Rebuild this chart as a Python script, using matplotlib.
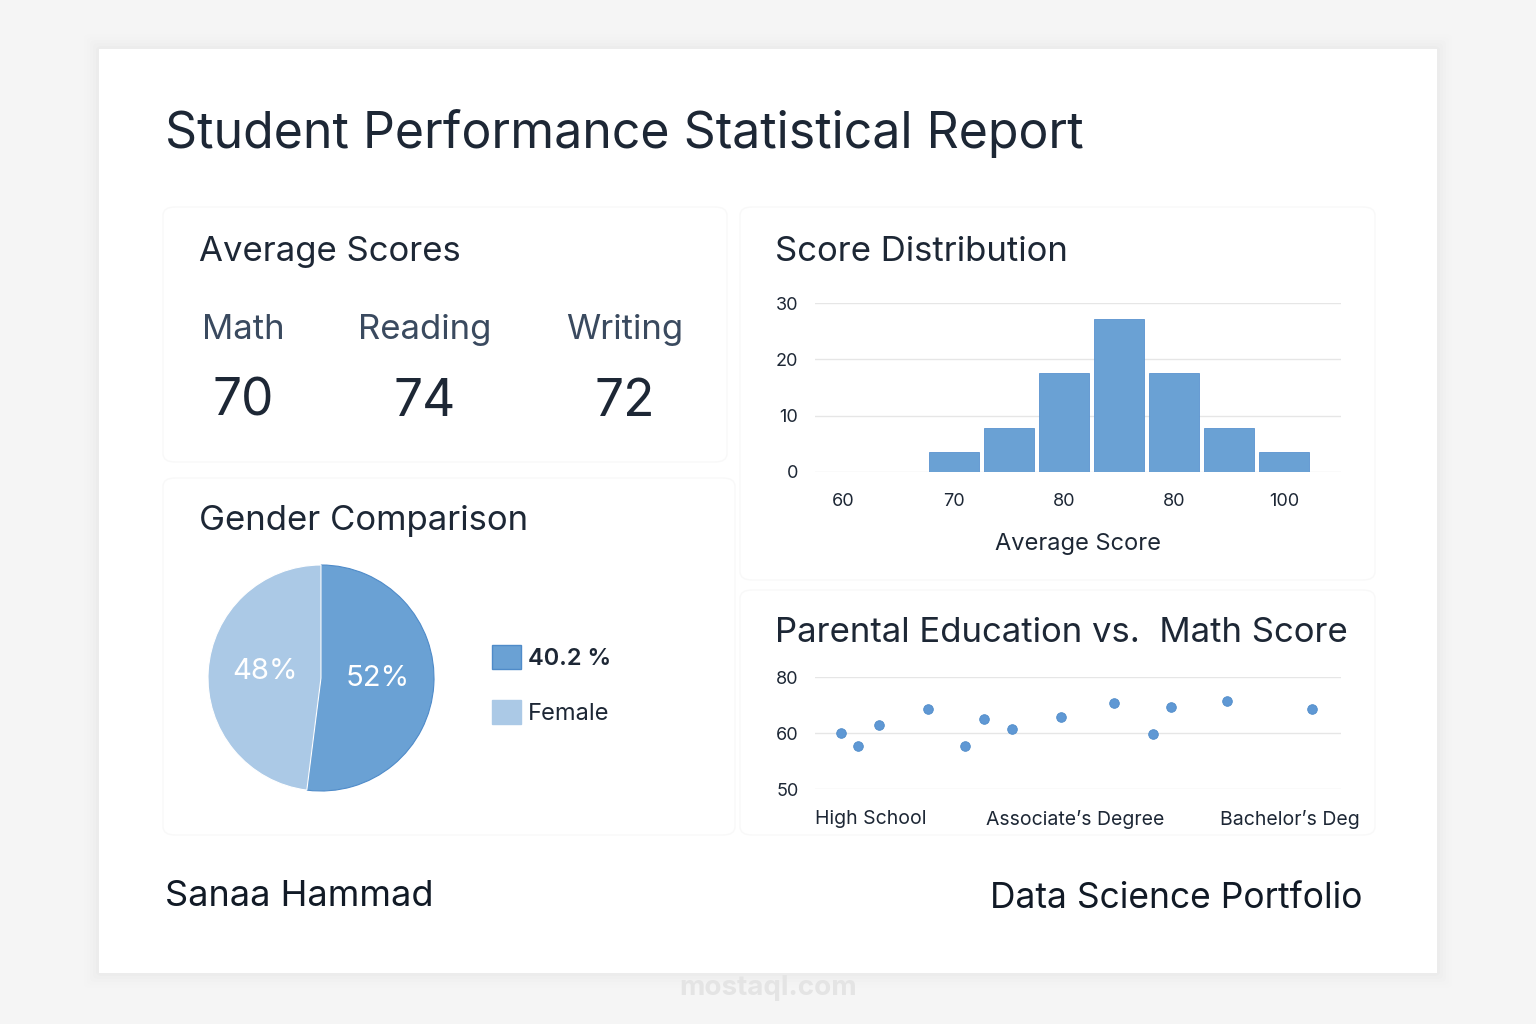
import numpy as np
import matplotlib
matplotlib.use("Agg")
import matplotlib.pyplot as plt
from matplotlib.patches import FancyBboxPatch, Patch

plt.rcParams['font.family'] = ['Inter', 'DejaVu Sans']

# ---- data ----
subjects = ["Math", "Reading", "Writing"]
avg_scores = [70, 74, 72]

gender_labels = ["40.2 %", "Female"]
gender_share = [52, 48]
gender_text = ["52%", "48%"]

hist_centers = [70, 75, 80, 85, 90, 95, 100]
hist_counts = [3.5, 7.8, 17.6, 27.2, 17.6, 7.8, 3.5]
hist_ticks = [60, 70, 80, 90, 100]
hist_ticklabels = ["60", "70", "80", "80", "100"]

edu_levels = ["High School", "Associate\u2019s Degree", "Bachelor\u2019s Deg"]
edu_x = [-0.15, -0.065, 0.04, 0.28, 0.46, 0.55, 0.69, 0.93, 1.19, 1.38, 1.47, 1.74, 2.16]
math_y = [60.0, 57.7, 62.8, 68.6, 57.6, 65.0, 61.3, 65.8, 70.7, 59.9, 69.2, 71.4, 68.4]
math_ticks = [50, 60, 80]

DARK = "#6aa1d4"
LIGHT = "#abc9e6"
TXT = "#1d2735"

W, H = 1536, 1024
fig = plt.figure(figsize=(W / 100, H / 100), dpi=100)
fig.patch.set_facecolor("#f5f5f5")


def fx(px):
    return px / W


def fy(py):
    return 1 - py / H


# card with soft shadow
for i, a in enumerate([0.012, 0.009, 0.007, 0.005, 0.003]):
    d = (i + 1) * 3
    fig.patches.append(FancyBboxPatch((fx(99 - d), fy(973 + d)), fx(1338 + 2 * d), (924 + 2 * d) / H,
                                      boxstyle="round,pad=0,rounding_size=0.004", transform=fig.transFigure,
                                      facecolor="black", alpha=a, edgecolor="none", zorder=0))
fig.patches.append(FancyBboxPatch((fx(99), fy(973)), fx(1338), 924 / H, boxstyle="square,pad=0",
                                  transform=fig.transFigure, facecolor="white", edgecolor="none", zorder=1))

# faint panels
for (x0, y0, x1, y1) in [(163, 207, 727, 462), (163, 478, 735, 835), (740, 207, 1375, 580), (740, 590, 1375, 835)]:
    fig.patches.append(FancyBboxPatch((fx(x0), fy(y1)), fx(x1 - x0), (y1 - y0) / H,
                                      boxstyle="round,pad=0,rounding_size=0.008", transform=fig.transFigure,
                                      facecolor="white", edgecolor="#f8f8f8", linewidth=1.0, zorder=2))

fig.text(fx(165), fy(134), "Student Performance Statistical Report", fontsize=36, color=TXT,
         va="center", ha="left", zorder=5)

# average scores
fig.text(fx(199), fy(252), "Average Scores", fontsize=25, color=TXT, va="center", zorder=5)
for name, val, cx in zip(subjects, avg_scores, [243, 425, 625]):
    fig.text(fx(cx), fy(330), name, fontsize=25, color="#3a4a5f", ha="center", va="center", zorder=5)
    fig.text(fx(cx), fy(402), str(val), fontsize=37, color=TXT, ha="center", va="center", zorder=5)

# gender pie
fig.text(fx(199), fy(521), "Gender Comparison", fontsize=25, color=TXT, va="center", zorder=5)
ax_pie = fig.add_axes([fx(208), fy(791), 226 / W, 226 / H])
ax_pie.set_zorder(5)
wedges, _ = ax_pie.pie(gender_share, colors=[DARK, LIGHT], startangle=90, counterclock=False,
                       wedgeprops=dict(edgecolor="white", linewidth=0.8))
wedges[0].set_edgecolor("#4f8bc9")
for w, t in zip(wedges, gender_text):
    ang = np.deg2rad((w.theta1 + w.theta2) / 2)
    ax_pie.text(0.5 * np.cos(ang), 0.5 * np.sin(ang) + 0.03, t, color="white", fontsize=21,
                ha="center", va="center")
ax_pie.set_xlim(-1, 1)
ax_pie.set_ylim(-1, 1)
ax_pie.set_aspect("equal")
ax_pie.axis("off")
handles = [Patch(facecolor=DARK, edgecolor="#4f8bc9"), Patch(facecolor=LIGHT, edgecolor=LIGHT)]
leg = fig.legend(handles, gender_labels, loc="upper left", bbox_to_anchor=(fx(471), fy(624)),
                 frameon=False, fontsize=17, handlelength=1.2, handleheight=1.2,
                 labelspacing=1.25, handletextpad=0.3)
for t in leg.get_texts():
    t.set_color(TXT)
leg.get_texts()[0].set_fontweight("semibold")
leg.set_zorder(6)

# histogram
fig.text(fx(775), fy(252), "Score Distribution", fontsize=25, color=TXT, va="center", zorder=5)
ax_h = fig.add_axes([fx(815), fy(472), (1341 - 815) / W, (472 - 303) / H])
ax_h.set_zorder(5)
ax_h.patch.set_alpha(0)
ax_h.bar(hist_centers, hist_counts, width=4.55, color=DARK, edgecolor="#5a93cf", linewidth=0.6, zorder=3)
ax_h.set_xlim(57.4, 105.2)
ax_h.set_ylim(0, 30)
ax_h.set_yticks([0, 10, 20, 30])
ax_h.set_xticks(hist_ticks)
ax_h.set_xticklabels(hist_ticklabels)
ax_h.grid(axis="y", color="#e6e6e6", linewidth=1)
ax_h.tick_params(length=0, labelsize=13, labelcolor=TXT)
ax_h.tick_params(axis="y", pad=12)
ax_h.tick_params(axis="x", pad=15)
for s in ax_h.spines.values():
    s.set_visible(False)
ax_h.set_xlabel("Average Score", fontsize=17, color=TXT, labelpad=17)

# scatter
fig.text(fx(775), fy(633), "Parental Education vs.  Math Score", fontsize=25, color=TXT, va="center", zorder=5)
ax_s = fig.add_axes([fx(815), fy(789), (1341 - 815) / W, (789 - 677) / H])
ax_s.set_zorder(5)
ax_s.patch.set_alpha(0)
yfwd = lambda v: np.interp(v, math_ticks, [0, 1, 2])
yinv = lambda v: np.interp(v, [0, 1, 2], math_ticks)
ax_s.set_yscale("function", functions=(yfwd, yinv))
ax_s.scatter(edu_x, math_y, s=48, color="#5f98d4", edgecolor="#4f8bc9", linewidth=0.6, zorder=3)
ax_s.set_ylim(50, 80)
ax_s.set_yticks(math_ticks)
ax_s.set_yticklabels([str(t) for t in math_ticks])
ax_s.set_xlim(-0.275, 2.30)
ax_s.set_xticks([0, 1, 2.05])
ax_s.set_xticklabels(edu_levels)
ax_s.grid(axis="y", color="#e6e6e6", linewidth=1)
ax_s.tick_params(length=0, labelcolor=TXT)
ax_s.tick_params(axis="y", pad=12, labelsize=13)
ax_s.tick_params(axis="x", pad=15, labelsize=14)
for s in ax_s.spines.values():
    s.set_visible(False)

# footer
fig.text(fx(165), fy(897), "Sanaa Hammad", fontsize=26, color="#111a26", va="center", zorder=5)
fig.text(fx(1362), fy(898), "Data Science Portfolio", fontsize=25.5, color="#111a26", va="center",
         ha="right", zorder=5)
fig.text(fx(768), fy(988), "mostaql.com", fontsize=20, color="#e4e4e4", fontweight="bold",
         ha="center", va="center", zorder=5)

fig.savefig("out.png", dpi=100, facecolor=fig.get_facecolor())
